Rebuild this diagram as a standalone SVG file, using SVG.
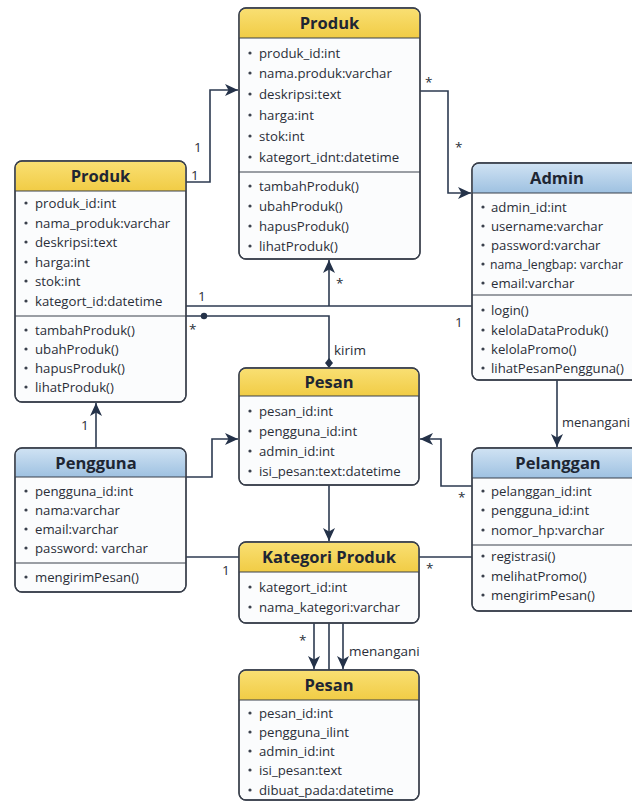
<svg xmlns="http://www.w3.org/2000/svg" width="632" height="803" viewBox="0 0 632 803">
<style>
.box{fill:#fbfcfd;stroke:#3a404c;stroke-width:1.3}
.sep{stroke:#3a404c;stroke-width:1.2}
.t{font-family:"Open Sans","Noto Sans","DejaVu Sans",sans-serif;font-size:13.2px;fill:#2a2e38}
.h{font-family:"Open Sans","Noto Sans","DejaVu Sans",sans-serif;font-size:16.5px;font-weight:bold;fill:#1e2633;text-anchor:middle}
.b{fill:#3a404c}
.c{fill:none;stroke:#2c3a50;stroke-width:1.6}
.l{font-family:"Open Sans","Noto Sans","DejaVu Sans",sans-serif;font-size:13.5px;fill:#2a2e38}
</style>
<defs>
<linearGradient id="gy" x1="0" y1="0" x2="0" y2="1"><stop offset="0" stop-color="#f9df72"/><stop offset="1" stop-color="#f1cc45"/></linearGradient>
<linearGradient id="gb" x1="0" y1="0" x2="0" y2="1"><stop offset="0" stop-color="#cfe2f3"/><stop offset="1" stop-color="#9ec1e1"/></linearGradient>
<marker id="ar" markerUnits="userSpaceOnUse" markerWidth="14" markerHeight="12" refX="13" refY="6" orient="auto"><path d="M0,0 L13,6 L0,12 L3.5,6 z" fill="#243249"/></marker>
</defs>

<g id="connectors">
<path class="c" d="M186,182 H210 V90 H238" marker-end="url(#ar)"/>
<path class="c" d="M420,91 H448 V193 H471" marker-end="url(#ar)"/>
<path class="c" d="M186,306 H472"/>
<path class="c" d="M329,306 V260" marker-end="url(#ar)"/>
<path class="c" d="M186,316 H329 V363"/>
<circle cx="204" cy="316" r="3.2" fill="#243249"/>
<path d="M329,358 L333,363 L329,368 L325,363 z" fill="#243249"/>
<path class="c" d="M96,448 V403" marker-end="url(#ar)"/>
<path class="c" d="M186,477 H212 V439 H238" marker-end="url(#ar)"/>
<path class="c" d="M472,486 H441 V439 H420" marker-end="url(#ar)"/>
<path class="c" d="M329,485 V541" marker-end="url(#ar)"/>
<path class="c" d="M186,557 H239"/>
<path class="c" d="M419,557 H472"/>
<path class="c" d="M557,380 V447" marker-end="url(#ar)"/>
<path class="c" d="M314,623 V669" marker-end="url(#ar)"/>
<path class="c" d="M329,623 V670"/>
<path class="c" d="M343,623 V669" marker-end="url(#ar)"/>
<text class="l" x="194" y="152">1</text>
<text class="l" x="191" y="180">1</text>
<text class="l" x="425" y="87">*</text>
<text class="l" x="455" y="152">*</text>
<text class="l" x="198" y="301">1</text>
<text class="l" x="455" y="327">1</text>
<text class="l" x="336" y="288">*</text>
<text class="l" x="189" y="334">*</text>
<text class="l" x="334" y="355">kirim</text>
<text class="l" x="81" y="430">1</text>
<text class="l" x="458" y="502">*</text>
<text class="l" x="222" y="575">1</text>
<text class="l" x="426" y="573">*</text>
<text class="l" x="562" y="427" textLength="68" lengthAdjust="spacingAndGlyphs">menangani</text>
<text class="l" x="299" y="645">*</text>
<text class="l" x="349" y="656">menangani</text>
</g>

<g id="produk_top">
<rect class="box" x="239" y="8" width="181" height="251" rx="7"/>
<path d="M246,8.7 H413 A6.3,6.3 0 0 1 419.3,15 V38 H239.7 V15 A6.3,6.3 0 0 1 246,8.7 z" fill="url(#gy)"/>
<line class="sep" x1="239" y1="38" x2="420" y2="38"/>
<line class="sep" x1="239" y1="172" x2="420" y2="172"/>
<rect x="239" y="8" width="181" height="251" rx="7" fill="none" stroke="#3a404c" stroke-width="1.3"/>
<text class="h" x="329.5" y="29">Produk</text>
<g class="b"><circle cx="250" cy="53" r="1.6"/><circle cx="250" cy="73" r="1.6"/><circle cx="250" cy="94" r="1.6"/><circle cx="250" cy="115" r="1.6"/><circle cx="250" cy="136" r="1.6"/><circle cx="250" cy="157" r="1.6"/><circle cx="250" cy="186" r="1.6"/><circle cx="250" cy="206" r="1.6"/><circle cx="250" cy="226" r="1.6"/><circle cx="250" cy="246" r="1.6"/></g>
<text class="t" x="259" y="57.5">produk_id:int</text>
<text class="t" x="259" y="77.5">nama.produk:varchar</text>
<text class="t" x="259" y="98.5">deskripsi:text</text>
<text class="t" x="259" y="119.5">harga:int</text>
<text class="t" x="259" y="140.5">stok:int</text>
<text class="t" x="259" y="161.5">kategort_idnt:datetime</text>
<text class="t" x="259" y="190.5">tambahProduk()</text>
<text class="t" x="259" y="210.5">ubahProduk()</text>
<text class="t" x="259" y="230.5">hapusProduk()</text>
<text class="t" x="259" y="250.5">lihatProduk()</text>
</g>

<g id="produk_left">
<rect class="box" x="15" y="161" width="171" height="241" rx="7"/>
<path d="M22,161.7 H179 A6.3,6.3 0 0 1 185.3,168 V191 H15.7 V168 A6.3,6.3 0 0 1 22,161.7 z" fill="url(#gy)"/>
<line class="sep" x1="15" y1="191" x2="186" y2="191"/>
<line class="sep" x1="15" y1="316" x2="186" y2="316"/>
<rect x="15" y="161" width="171" height="241" rx="7" fill="none" stroke="#3a404c" stroke-width="1.3"/>
<text class="h" x="100.5" y="182">Produk</text>
<g class="b"><circle cx="26" cy="203" r="1.6"/><circle cx="26" cy="223" r="1.6"/><circle cx="26" cy="242" r="1.6"/><circle cx="26" cy="262" r="1.6"/><circle cx="26" cy="281" r="1.6"/><circle cx="26" cy="301" r="1.6"/><circle cx="26" cy="330" r="1.6"/><circle cx="26" cy="349" r="1.6"/><circle cx="26" cy="368" r="1.6"/><circle cx="26" cy="387" r="1.6"/></g>
<text class="t" x="35" y="207.5">produk_id:int</text>
<text class="t" x="35" y="227.5">nama_produk:varchar</text>
<text class="t" x="35" y="246.5">deskripsi:text</text>
<text class="t" x="35" y="266.5">harga:int</text>
<text class="t" x="35" y="285.5">stok:int</text>
<text class="t" x="35" y="305.5">kategort_id:datetime</text>
<text class="t" x="35" y="334.5">tambahProduk()</text>
<text class="t" x="35" y="353.5">ubahProduk()</text>
<text class="t" x="35" y="372.5">hapusProduk()</text>
<text class="t" x="35" y="391.5">lihatProduk()</text>
</g>

<g id="admin">
<rect class="box" x="472" y="163" width="170" height="217" rx="7"/>
<path d="M479,163.7 H635 A6.3,6.3 0 0 1 641.3,170 V193 H472.7 V170 A6.3,6.3 0 0 1 479,163.7 z" fill="url(#gb)"/>
<line class="sep" x1="472" y1="193" x2="642" y2="193"/>
<line class="sep" x1="472" y1="295" x2="642" y2="295"/>
<rect x="472" y="163" width="170" height="217" rx="7" fill="none" stroke="#3a404c" stroke-width="1.3"/>
<text class="h" x="557" y="184">Admin</text>
<g class="b"><circle cx="483" cy="207" r="1.6"/><circle cx="483" cy="226" r="1.6"/><circle cx="483" cy="245" r="1.6"/><circle cx="483" cy="264" r="1.6"/><circle cx="483" cy="283" r="1.6"/><circle cx="483" cy="310" r="1.6"/><circle cx="483" cy="330" r="1.6"/><circle cx="483" cy="349" r="1.6"/><circle cx="483" cy="368" r="1.6"/></g>
<text class="t" x="491" y="211.5">admin_id:int</text>
<text class="t" x="491" y="230.5">username:varchar</text>
<text class="t" x="491" y="249.5">password:varchar</text>
<text class="t" x="490" y="268.5" textLength="133" lengthAdjust="spacingAndGlyphs">nama_lengbap: varchar</text>
<text class="t" x="491" y="287.5">email:varchar</text>
<text class="t" x="491" y="314.5">login()</text>
<text class="t" x="491" y="334.5">kelolaDataProduk()</text>
<text class="t" x="491" y="353.5">kelolaPromo()</text>
<text class="t" x="491" y="372.5">lihatPesanPengguna()</text>
</g>

<g id="pesan_mid">
<rect class="box" x="239" y="368" width="180" height="117" rx="7"/>
<path d="M246,368.7 H412 A6.3,6.3 0 0 1 418.3,375 V396 H239.7 V375 A6.3,6.3 0 0 1 246,368.7 z" fill="url(#gy)"/>
<line class="sep" x1="239" y1="396" x2="419" y2="396"/>
<rect x="239" y="368" width="180" height="117" rx="7" fill="none" stroke="#3a404c" stroke-width="1.3"/>
<text class="h" x="329" y="388">Pesan</text>
<g class="b"><circle cx="250" cy="411" r="1.6"/><circle cx="250" cy="431" r="1.6"/><circle cx="250" cy="451" r="1.6"/><circle cx="250" cy="471" r="1.6"/></g>
<text class="t" x="259" y="415.5">pesan_id:int</text>
<text class="t" x="259" y="435.5">pengguna_id:int</text>
<text class="t" x="259" y="455.5">admin_id:int</text>
<text class="t" x="259" y="475.5">isi_pesan:text:datetime</text>
</g>

<g id="pengguna">
<rect class="box" x="15" y="448" width="171" height="144" rx="7"/>
<path d="M22,448.7 H179 A6.3,6.3 0 0 1 185.3,455 V477 H15.7 V455 A6.3,6.3 0 0 1 22,448.7 z" fill="url(#gb)"/>
<line class="sep" x1="15" y1="477" x2="186" y2="477"/>
<line class="sep" x1="15" y1="563" x2="186" y2="563"/>
<rect x="15" y="448" width="171" height="144" rx="7" fill="none" stroke="#3a404c" stroke-width="1.3"/>
<text class="h" x="96" y="468.5">Pengguna</text>
<g class="b"><circle cx="26" cy="491" r="1.6"/><circle cx="26" cy="510" r="1.6"/><circle cx="26" cy="529" r="1.6"/><circle cx="26" cy="548" r="1.6"/><circle cx="26" cy="577" r="1.6"/></g>
<text class="t" x="35" y="495.5">pengguna_id:int</text>
<text class="t" x="35" y="514.5">nama:varchar</text>
<text class="t" x="35" y="533.5">email:varchar</text>
<text class="t" x="35" y="552.5">password: varchar</text>
<text class="t" x="35" y="581.5">mengirimPesan()</text>
</g>

<g id="pelanggan">
<rect class="box" x="472" y="448" width="170" height="163" rx="7"/>
<path d="M479,448.7 H635 A6.3,6.3 0 0 1 641.3,455 V478 H472.7 V455 A6.3,6.3 0 0 1 479,448.7 z" fill="url(#gb)"/>
<line class="sep" x1="472" y1="478" x2="642" y2="478"/>
<line class="sep" x1="472" y1="545" x2="642" y2="545"/>
<rect x="472" y="448" width="170" height="163" rx="7" fill="none" stroke="#3a404c" stroke-width="1.3"/>
<text class="h" x="558" y="469">Pelanggan</text>
<g class="b"><circle cx="483" cy="491" r="1.6"/><circle cx="483" cy="510" r="1.6"/><circle cx="483" cy="530" r="1.6"/><circle cx="483" cy="556" r="1.6"/><circle cx="483" cy="576" r="1.6"/><circle cx="483" cy="595" r="1.6"/></g>
<text class="t" x="491" y="495.5">pelanggan_id:int</text>
<text class="t" x="491" y="514.5">pengguna_id:int</text>
<text class="t" x="491" y="534.5">nomor_hp:varchar</text>
<text class="t" x="491" y="560.5">registrasi()</text>
<text class="t" x="491" y="580.5">melihatPromo()</text>
<text class="t" x="491" y="599.5">mengirimPesan()</text>
</g>

<g id="kategori_produk">
<rect class="box" x="239" y="542" width="180" height="81" rx="7"/>
<path d="M246,542.7 H412 A6.3,6.3 0 0 1 418.3,549 V572 H239.7 V549 A6.3,6.3 0 0 1 246,542.7 z" fill="url(#gy)"/>
<line class="sep" x1="239" y1="572" x2="419" y2="572"/>
<rect x="239" y="542" width="180" height="81" rx="7" fill="none" stroke="#3a404c" stroke-width="1.3"/>
<text class="h" x="329" y="563">Kategori Produk</text>
<g class="b"><circle cx="250" cy="587" r="1.6"/><circle cx="250" cy="607" r="1.6"/></g>
<text class="t" x="259" y="591.5">kategort_id:int</text>
<text class="t" x="259" y="611.5">nama_kategori:varchar</text>
</g>

<g id="pesan_bottom">
<rect class="box" x="239" y="670" width="180" height="130" rx="7"/>
<path d="M246,670.7 H412 A6.3,6.3 0 0 1 418.3,677 V700 H239.7 V677 A6.3,6.3 0 0 1 246,670.7 z" fill="url(#gy)"/>
<line class="sep" x1="239" y1="700" x2="419" y2="700"/>
<rect x="239" y="670" width="180" height="130" rx="7" fill="none" stroke="#3a404c" stroke-width="1.3"/>
<text class="h" x="329" y="691">Pesan</text>
<g class="b"><circle cx="250" cy="713" r="1.6"/><circle cx="250" cy="732" r="1.6"/><circle cx="250" cy="751" r="1.6"/><circle cx="250" cy="770" r="1.6"/><circle cx="250" cy="790" r="1.6"/></g>
<text class="t" x="259" y="717.5">pesan_id:int</text>
<text class="t" x="259" y="736.5">pengguna_ilint</text>
<text class="t" x="259" y="755.5">admin_id:int</text>
<text class="t" x="259" y="774.5">isi_pesan:text</text>
<text class="t" x="259" y="794.5">dibuat_pada:datetime</text>
</g>
</svg>
